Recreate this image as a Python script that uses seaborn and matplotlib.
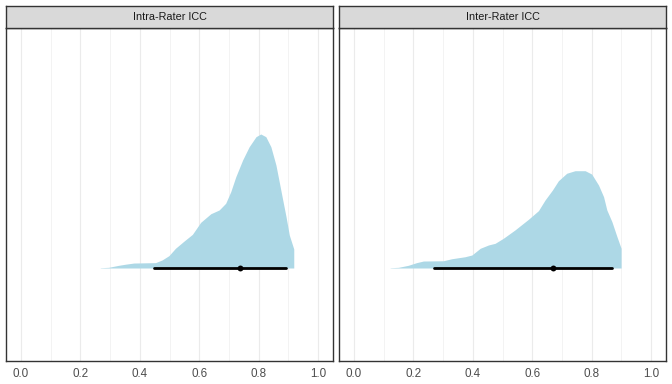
import matplotlib
matplotlib.use("Agg")
import matplotlib.pyplot as plt
import seaborn as sns
import pandas as pd

# ---- data ----
panels = ["Intra-Rater ICC", "Inter-Rater ICC"]

intra_x = [0.267, 0.295, 0.329, 0.351, 0.380, 0.453, 0.475, 0.498, 0.520, 0.549,
           0.577, 0.605, 0.639, 0.667, 0.689, 0.706, 0.723, 0.746, 0.768, 0.791,
           0.807, 0.824, 0.841, 0.858, 0.869, 0.881, 0.892, 0.903, 0.918]
intra_density = [0.002, 0.005, 0.020, 0.028, 0.037, 0.040, 0.060, 0.092, 0.147, 0.201,
                 0.251, 0.341, 0.405, 0.433, 0.483, 0.569, 0.681, 0.806, 0.905, 0.980,
                 1.000, 0.980, 0.905, 0.769, 0.644, 0.507, 0.383, 0.246, 0.142]
intra_interval = [0.447, 0.892]
intra_point = 0.738

inter_x = [0.122, 0.150, 0.183, 0.211, 0.234, 0.301, 0.329, 0.374, 0.397, 0.425,
           0.453, 0.475, 0.503, 0.542, 0.587, 0.621, 0.643, 0.668, 0.688, 0.716,
           0.744, 0.778, 0.800, 0.823, 0.840, 0.851, 0.868, 0.885, 0.899]
inter_density = [0.002, 0.005, 0.020, 0.040, 0.052, 0.054, 0.069, 0.084, 0.097, 0.147,
                 0.172, 0.184, 0.222, 0.284, 0.363, 0.428, 0.507, 0.582, 0.651, 0.707,
                 0.726, 0.726, 0.701, 0.619, 0.532, 0.433, 0.346, 0.234, 0.147]
inter_interval = [0.269, 0.868]
inter_point = 0.671

x_ticks = [0.0, 0.2, 0.4, 0.6, 0.8, 1.0]
x_tick_labels = ["0.0", "0.2", "0.4", "0.6", "0.8", "1.0"]
minor_ticks = [0.1, 0.3, 0.5, 0.7, 0.9]

sns.set_theme(style="white")
plt.rcParams["font.family"] = ["Liberation Sans", "DejaVu Sans"]

W, H = 672, 384
fig = plt.figure(figsize=(W / 100, H / 100), dpi=100)

panel_boxes = [(6, 333), (339, 666)]
ptop, pbot = 28, 361
stop = 6

series = [
    (intra_x, intra_density, intra_interval, intra_point),
    (inter_x, inter_density, inter_interval, inter_point),
]

for (x0, x1), title, (xs, ds, iv, pt) in zip(panel_boxes, panels, series):
    ax = fig.add_axes([x0 / W, (H - pbot) / H, (x1 - x0) / W, (pbot - ptop) / H])
    ax.set_facecolor("white")
    ax.set_xlim(-0.05, 1.05)
    ax.set_ylim(-93 / 134, 240 / 134)
    for t in x_ticks:
        ax.axvline(t, color="#EBEBEB", lw=0.8, zorder=0)
    for t in minor_ticks:
        ax.axvline(t, color="#EBEBEB", lw=0.4, zorder=0)

    ax.fill_between(xs, 0, ds, color="#ADD8E6", lw=0, zorder=2)

    iv_df = pd.DataFrame({"x": iv, "y": [0, 0]})
    sns.lineplot(data=iv_df, x="x", y="y", ax=ax, color="black", lw=2.0, zorder=3)
    pt_df = pd.DataFrame({"x": [pt], "y": [0]})
    sns.scatterplot(data=pt_df, x="x", y="y", ax=ax, color="black", s=18,
                    linewidth=0, zorder=4)

    ax.set_xticks(x_ticks)
    ax.set_xticklabels(x_tick_labels)
    ax.set_yticks([])
    ax.set_xlabel("")
    ax.set_ylabel("")
    ax.tick_params(axis="x", length=0, pad=5, labelsize=8.4, labelcolor="#4D4D4D")
    for s in ax.spines.values():
        s.set_color("#333333")
        s.set_linewidth(1.0)

    sax = fig.add_axes([x0 / W, (H - ptop) / H, (x1 - x0) / W, (ptop - stop) / H])
    sax.set_facecolor("#D9D9D9")
    sax.set_xticks([])
    sax.set_yticks([])
    for s in sax.spines.values():
        s.set_color("#333333")
        s.set_linewidth(1.0)
    sax.text(0.5, 0.5, title, ha="center", va="center", fontsize=7.8,
             color="#1A1A1A", transform=sax.transAxes)

fig.savefig("out.png", dpi=100)
